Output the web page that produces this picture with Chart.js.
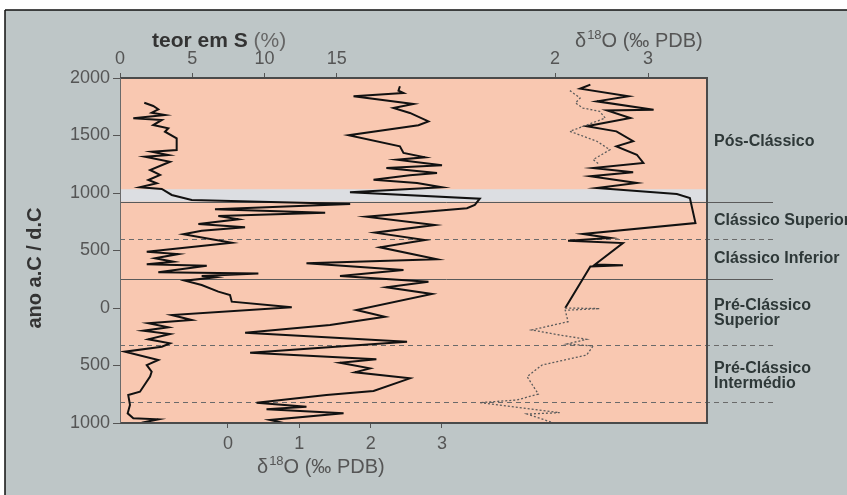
<!DOCTYPE html>
<html><head><meta charset="utf-8">
<script src="https://cdn.jsdelivr.net/npm/chart.js@4.4.0/dist/chart.umd.min.js"></script>
<style>html,body{margin:0;padding:0;background:#fff;}canvas{display:block;}</style>
</head><body>
<canvas id="c" width="847" height="495"></canvas>
<script>
// ---- data ----
const sulfurYears = [1785,1757,1728,1698,1678,1650,1635,1591,1563,1533,1476,1374,1359,1330,1316,1272,1200,1157,1113,1084,1050,1035,983,939,904,858,829,800,771,730,702,672,641,568,489,469,432,402,380,368,310,300,278,267,237,200,142,113,55,6,-61,-104,-133,-168,-197,-226,-272,-307,-337,-380,-452,-496,-554,-597,-728,-757,-843,-916,-959,-968,-998];
const sulfurValues = [1.68,2.30,2.65,2.19,3.11,0.92,2.89,2.30,3.34,3.11,3.92,3.92,2.19,3.34,1.73,3.46,2.08,2.77,1.96,2.54,1.38,2.89,3.58,4.96,15.92,6.57,14.19,6.80,8.19,5.42,8.65,5.65,4.38,7.73,1.85,4.03,2.42,3.69,1.85,6.00,2.65,9.57,5.65,6.57,4.50,5.65,6.80,7.61,7.73,11.88,3.58,4.96,1.96,3.34,1.61,3.46,1.96,3.46,2.89,0.35,2.65,1.85,2.19,2.08,1.38,0.57,0.69,0.53,0.92,2.65,1.50];

const midO18Years = [1928,1890,1870,1841,1774,1739,1696,1623,1589,1502,1406,1348,1310,1290,1241,1217,1174,1154,1116,1087,1050,1006,950,896,867,794,722,655,591,528,423,389,330,278,229,180,122,-17,-76,-148,-215,-293,-389,-446,-476,-525,-559,-612,-722,-757,-823,-858,-881,-916,-974,-1000];
const midO18Values = [2.41,2.39,2.46,1.76,2.60,2.32,2.55,2.81,2.67,1.69,2.41,2.46,2.76,2.37,3.00,2.22,2.93,2.55,2.04,2.65,3.00,1.71,3.53,3.46,3.35,1.94,2.90,2.06,2.76,2.13,2.93,1.10,2.46,1.57,2.81,2.22,2.86,1.80,2.20,1.43,0.24,2.51,0.31,2.08,1.57,1.99,1.78,2.55,2.04,1.38,0.40,1.10,0.54,1.62,0.59,0.78];

const rightO18Years = [1942,1907,1841,1797,1724,1718,1652,1580,1536,1450,1406,1333,1261,1217,1180,1145,1087,1043,991,957,739,643,609,585,565,378,372,360,0];
const rightO18Values = [2.38,2.27,2.79,2.45,3.06,2.56,2.81,2.34,2.66,2.84,2.66,2.88,2.95,2.41,2.84,2.38,2.88,2.45,3.31,3.45,3.51,2.30,2.59,2.14,2.73,2.43,2.73,2.38,2.11];

const dottedUpperYears = [1890,1826,1783,1739,1710,1652,1536,1450,1376,1290,1246];
const dottedUpperValues = [2.16,2.27,2.22,2.30,2.48,2.54,2.16,2.45,2.59,2.41,2.48];
const dottedLowerYears = [0,-5,-20,-119,-191,-235,-272,-313,-330,-409,-496,-597,-748,-800,-823,-910,-922,-998];
const dottedLowerValues = [2.11,2.48,2.11,2.14,1.75,2.05,2.34,2.13,2.41,2.34,1.86,1.70,1.82,1.59,1.19,2.05,1.70,1.98];

const yearTicks = [2000,1500,1000,500,0,-500,-1000];
const sulfurTicks = [0,5,10,15];
const o18TopTicks = [2,3];
const o18BottomTicks = [0,1,2,3];

const bandYears = [1033,925];
const solidLineYears = [925,250];
const dashedLineYears = [600,-320,-820];
const periodNames = [['Pós-Clássico'],['Clássico Superior'],['Clássico Inferior'],['Pré-Clássico','Superior'],['Pré-Clássico','Intermédio']];
const periodLabelYears = [1443,757,426,-48,-596];

// ---- chart ----
const toPts = (xs, ys) => xs.map((v, i) => ({x: v, y: ys[i]}));
const FONT = '"Liberation Sans", Arial, sans-serif';

function xScale(pos, min, max, ticks, pad) {
  return {
    type: 'linear', position: pos, min: min, max: max,
    afterBuildTicks: s => { s.ticks = ticks.map(v => ({value: v})); },
    afterFit: s => { s.height = 0; },
    grid: {display: true, drawOnChartArea: false, drawTicks: true, tickLength: 5, color: '#555', lineWidth: 1},
    border: {display: false},
    ticks: {color: '#555', font: {family: FONT, size: 18}, padding: pad, maxRotation: 0, autoSkip: false}
  };
}

const bgPlugin = {
  id: 'bg',
  afterLayout(chart) {
    // give the zero-size axes real boxes so their labels are not clipped
    const a = chart.chartArea;
    ['xS', 'xOt'].forEach(id => { const s = chart.scales[id]; s.top = 0; s.bottom = a.top; s.height = a.top; });
    const b = chart.scales.xOb; b.top = a.bottom; b.bottom = chart.height; b.height = chart.height - a.bottom;
    const y = chart.scales.y; y.left = 0; y.right = a.left; y.width = a.left;
  },
  beforeDraw(chart) {
    const c = chart.ctx, a = chart.chartArea, y = chart.scales.y;
    c.save();
    c.fillStyle = '#ffffff'; c.fillRect(0, 0, chart.width, chart.height);
    c.fillStyle = '#bec6c7'; c.fillRect(5, 10, chart.width - 5, chart.height - 10);
    c.strokeStyle = '#111'; c.lineWidth = 1.5;
    c.beginPath(); c.moveTo(5, 10); c.lineTo(chart.width, 10); c.moveTo(5, 10); c.lineTo(5, chart.height); c.stroke();
    c.fillStyle = '#f9c8b1'; c.fillRect(a.left, a.top, a.right - a.left, a.bottom - a.top);
    const b0 = y.getPixelForValue(bandYears[0]), b1 = y.getPixelForValue(bandYears[1]);
    c.fillStyle = '#dcdee2'; c.fillRect(a.left, b0, a.right - a.left, b1 - b0);
    c.restore();
  },
  beforeDatasetsDraw(chart) {
    const c = chart.ctx, a = chart.chartArea, y = chart.scales.y;
    const xEnd = 773;
    c.save();
    c.strokeStyle = '#5a5a5a'; c.lineWidth = 1;
    solidLineYears.forEach(v => {
      const p = Math.round(y.getPixelForValue(v)) + 0.5;
      c.beginPath(); c.moveTo(a.left, p); c.lineTo(xEnd, p); c.stroke();
    });
    c.setLineDash([5, 4]);
    c.strokeStyle = '#6a6a6a';
    dashedLineYears.forEach(v => {
      const p = Math.round(y.getPixelForValue(v)) + 0.5;
      c.beginPath(); c.moveTo(a.left, p); c.lineTo(xEnd, p); c.stroke();
    });
    c.restore();
  },
  afterDatasetsDraw(chart) {
    const c = chart.ctx, a = chart.chartArea;
    c.save();
    c.strokeStyle = '#4a4a4a'; c.lineWidth = 2;
    c.beginPath();
    c.moveTo(a.left, a.top); c.lineTo(a.right, a.top); c.lineTo(a.right, a.bottom); c.lineTo(a.left, a.bottom);
    c.stroke();
    c.strokeStyle = '#6a6a6a'; c.lineWidth = 1;
    c.beginPath(); c.moveTo(a.left + 0.5, a.top); c.lineTo(a.left + 0.5, a.bottom); c.stroke();
    c.restore();
  },
  afterDraw(chart) {
    const c = chart.ctx, y = chart.scales.y;
    c.save();
    c.textBaseline = 'alphabetic'; c.textAlign = 'left';
    c.font = 'bold 21px ' + FONT; c.fillStyle = '#333';
    c.fillText('teor em S', 152, 47);
    let w = c.measureText('teor em S ').width;
    c.font = '21px ' + FONT; c.fillStyle = '#666';
    c.fillText('(%)', 152 + w, 47);
    function delta(x, base) {
      c.fillStyle = '#555';
      c.font = '20px ' + FONT; c.fillText('δ', x, base);
      let xx = x + c.measureText('δ').width + 1;
      c.font = '13px ' + FONT; c.fillText('18', xx, base - 8);
      xx += c.measureText('18').width;
      c.font = '20px ' + FONT; c.fillText('O (‰ PDB)', xx, base);
    }
    delta(575, 47);
    delta(257, 473);
    c.save();
    c.translate(35, 268); c.rotate(-Math.PI / 2);
    c.textAlign = 'center'; c.textBaseline = 'middle';
    c.font = 'bold 20px ' + FONT; c.fillStyle = '#333';
    c.fillText('ano a.C / d.C', 0, 0);
    c.restore();
    c.font = 'bold 16px ' + FONT; c.fillStyle = '#2e3838'; c.textBaseline = 'middle'; c.textAlign = 'left';
    periodNames.forEach((lines, i) => {
      const p = y.getPixelForValue(periodLabelYears[i]);
      const lh = 15, start = p - (lines.length - 1) * lh / 2;
      lines.forEach((t, j) => c.fillText(t, 714, start + j * lh));
    });
    c.restore();
  }
};

const lineDs = (xs, ys, axis, extra) => Object.assign({
  data: toPts(xs, ys), xAxisID: axis, yAxisID: 'y', showLine: true,
  borderColor: '#111', borderWidth: 2, pointRadius: 0, tension: 0, fill: false
}, extra || {});

new Chart(document.getElementById('c'), {
  type: 'scatter',
  data: {datasets: [
    lineDs(sulfurValues, sulfurYears, 'xS'),
    lineDs(midO18Values, midO18Years, 'xOb'),
    lineDs(dottedUpperValues, dottedUpperYears, 'xOt', {borderColor: '#5b5b5b', borderWidth: 1.3, borderDash: [2, 2]}),
    lineDs(dottedLowerValues, dottedLowerYears, 'xOt', {borderColor: '#5b5b5b', borderWidth: 1.3, borderDash: [2, 2]}),
    lineDs(rightO18Values, rightO18Years, 'xOt')
  ]},
  options: {
    responsive: false, animation: false, events: [],
    layout: {padding: {left: 120, right: 140, top: 78, bottom: 72}},
    plugins: {legend: {display: false}, tooltip: {enabled: false}},
    scales: {
      xS: xScale('top', 0, 40.6, sulfurTicks, 3),
      xOt: xScale('top', -2.677, 3.634, o18TopTicks, 3),
      xOb: xScale('bottom', -1.514, 6.715, o18BottomTicks, 5),
      y: {
        type: 'linear', position: 'left', min: -1000, max: 2000,
        afterBuildTicks: s => { s.ticks = yearTicks.map(v => ({value: v})); },
        afterFit: s => { s.width = 0; },
        grid: {display: true, drawOnChartArea: false, drawTicks: true, tickLength: 7, color: '#555'},
        border: {display: false},
        ticks: {color: '#555', font: {family: FONT, size: 18}, padding: 3, callback: v => String(Math.abs(v))}
      }
    }
  },
  plugins: [bgPlugin]
});
</script>
</body></html>
